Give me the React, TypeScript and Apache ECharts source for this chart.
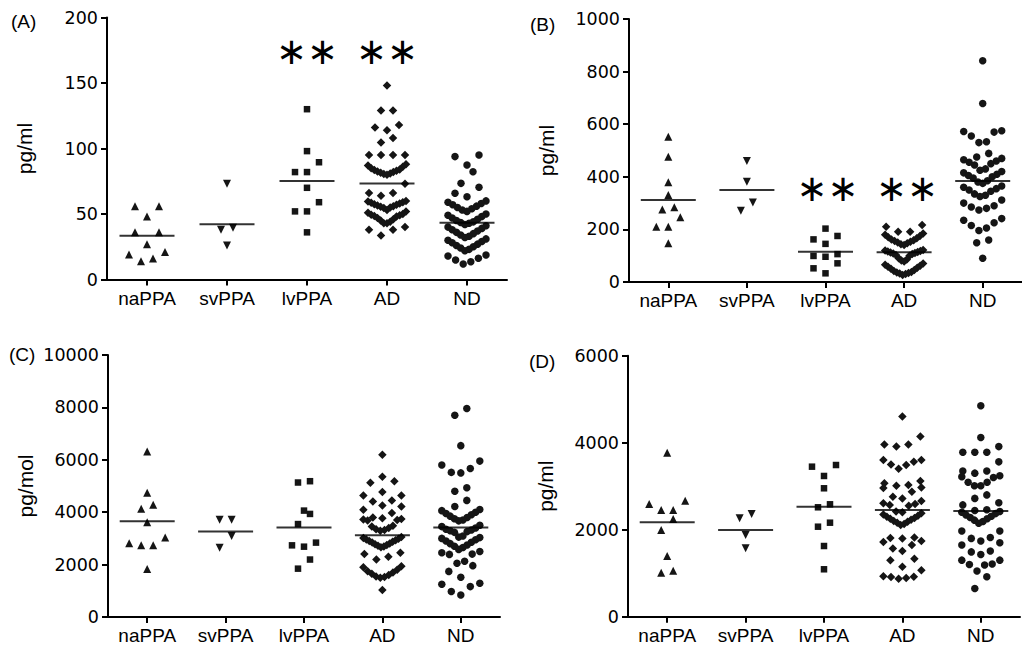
import React, { useEffect, useRef } from 'react';
import * as echarts from 'echarts';

const categories = ['naPPA', 'svPPA', 'lvPPA', 'AD', 'ND'];

// Panel A (pg/ml)
const aNaPPA = [56, 56, 48, 36, 36, 27, 21, 19, 16, 14];
const aSvPPA = [73, 39.5, 38, 26];
const aLvPPA = [130, 98, 89.5, 82, 82, 70, 59, 52, 52, 36];
const aAD = [148, 129, 129, 118, 116, 114, 108, 104.5, 95, 95, 95, 95,
  88, 87, 86, 85, 84, 83.5, 83, 82.5, 82, 81.5, 81, 80.5, 80,
  73, 66, 66, 64,
  60, 59.5, 59, 58.5, 58, 57.5, 57, 56.5, 56, 55.5, 55, 54.5, 53,
  52, 51, 50, 49.5, 49, 48.5, 48, 47, 46, 45, 44, 43, 43,
  40, 38, 38, 33.5];
const aND = [95, 93.8, 87.4, 82.3, 73.4, 70.4, 65.8, 63.2,
  60, 59, 58, 57, 56, 55, 54, 53, 52,
  50, 49, 48, 47, 46, 45, 44, 43.5, 43, 42,
  41, 40, 39, 38, 37, 36, 35, 34, 33, 32,
  31, 30, 29, 28, 27, 26, 25, 24, 23, 22,
  18.7, 17.9, 16.2, 14.9, 13.6, 11.8];
const meansA = [33.4, 42.1, 75.2, 73.2, 43.4];

// Panel B (pg/ml)
const bNaPPA = [552, 476, 379, 331, 284, 276, 246, 210, 210, 147];
const bSvPPA = [460, 381, 302, 271];
const bLvPPA = [203, 175, 162, 145, 106, 99, 96, 71, 52, 33];
const bAD = [217, 210, 191, 191,
  184, 180, 175, 170, 166, 162, 159, 156, 153, 150, 147, 144, 141,
  122, 120, 118, 116, 114, 112, 110, 108, 106, 103, 100, 90, 86, 82, 78,
  70, 66, 62, 58, 54, 50, 46, 42, 38, 36, 34, 32, 30, 27];
const bND = [841, 679, 575, 572, 570, 555, 533, 530, 489, 475,
  470, 465, 460, 455, 450, 445, 430, 425,
  420, 415, 410, 405, 400, 395, 385, 380, 375,
  365, 360, 355, 350, 345, 335, 330, 325,
  312, 300, 290, 285, 280, 274,
  241, 235, 225, 215, 205, 196, 160, 149, 90];
const meansB = [312, 350, 115, 113, 384];

// Panel C (pg/mol)
const cNaPPA = [6320, 4746, 4282, 4127, 3613, 3032, 2812, 2735, 2735, 1833];
const cSvPPA = [3713, 3713, 3094, 2645];
const cLvPPA = [5183, 5133, 4061, 3934, 3547, 2839, 2735, 2684, 2193, 1845];
const cAD = [6190, 5350, 5180, 5120, 4770, 4640, 4640, 4450, 4410, 4255,
  4215, 4090, 3970, 3800, 3770,
  3740, 3720, 3700, 3680, 3480, 3450, 3400, 3350, 3320, 3290,
  3050, 3020, 2990, 2960, 2930, 2900, 2870, 2840, 2810, 2780, 2750, 2720, 2690, 2660,
  2450, 2400, 2300, 2190,
  1940, 1900, 1800, 1750, 1700, 1650, 1600, 1550, 1530, 1500, 1030];
const cND = [7960, 7700, 6540, 5950, 5800, 5670, 5520, 5500, 4930, 4800, 4450, 4220,
  4100, 4060, 4000, 3950, 3900, 3850, 3800, 3750, 3700, 3670,
  3500, 3450, 3400, 3350, 3320, 3290, 3260, 3230, 3090, 3050,
  3030, 3000, 2950, 2900, 2850, 2800, 2750, 2700, 2650, 2580,
  2500, 2450, 2400, 2390, 2130, 2050,
  1960, 1740, 1520, 1290, 1250, 1160, 970, 840];
const meansC = [3651, 3264, 3419, 3121, 3419];

// Panel D (pg/ml)
const dNaPPA = [3770, 2667, 2591, 2453, 2453, 2246, 1993, 1395, 1058, 1012];
const dSvPPA = [2361, 2262, 1878, 1572];
const dLvPPA = [3487, 3449, 3235, 2952, 2584, 2515, 2161, 2069, 1625, 1090];
const dAD = [4600, 4140, 3960, 3960, 3910, 3600, 3600, 3560, 3500, 3490, 3400,
  3120, 3070, 3030, 3010, 2970, 2960, 2870, 2760, 2720,
  2660, 2610, 2590, 2570, 2550, 2420, 2400,
  2380, 2350, 2320, 2300, 2270, 2250, 2230, 2200, 2180, 2160, 2130, 2110,
  1820, 1810, 1800, 1740, 1720, 1650, 1570, 1510,
  1330, 1300, 1150, 1070, 930, 920, 910, 890, 870];
const dND = [4850, 4120, 3910, 3780, 3780, 3780, 3560, 3350, 3350, 3300,
  3240, 3220, 3200, 3090, 3090, 3010, 3010, 2800, 2720, 2620, 2570, 2460, 2440,
  2420, 2400, 2370, 2340, 2310, 2280, 2250, 2220, 2190, 2150,
  1970, 1970, 1820, 1800, 1740, 1700, 1650, 1510, 1490, 1430,
  1300, 1300, 1210, 1200, 1190, 1050, 920, 650];
const meansD = [2170, 1993, 2529, 2453, 2430];

const yTicksA = { max: 200, interval: 50 };
const yTicksB = { max: 1000, interval: 200 };
const yTicksC = { max: 10000, interval: 2000 };
const yTicksD = { max: 6000, interval: 2000 };

const FONT = "'Liberation Sans', Arial, sans-serif";
const TICKFONT = "'DejaVu Sans', 'Liberation Sans', sans-serif";
const INK = '#000000';

const panels = [
  { label: '(A)', unit: 'pg/ml', ticks: yTicksA, groups: [aNaPPA, aSvPPA, aLvPPA, aAD, aND], means: meansA,
    grid: { left: 107, top: 17.5, width: 400, height: 262 }, labelPos: [11, 12], stars: [2, 3], starY: 50 },
  { label: '(B)', unit: 'pg/ml', ticks: yTicksB, groups: [bNaPPA, bSvPPA, bLvPPA, bAD, bND], means: meansB,
    grid: { left: 629, top: 19, width: 397, height: 263 }, labelPos: [530, 15], stars: [2, 3], starY: 187 },
  { label: '(C)', unit: 'pg/mol', ticks: yTicksC, groups: [cNaPPA, cSvPPA, cLvPPA, cAD, cND], means: meansC,
    grid: { left: 108, top: 355, width: 392, height: 262 }, labelPos: [9, 345], stars: [], starY: 0 },
  { label: '(D)', unit: 'pg/ml', ticks: yTicksD, groups: [dNaPPA, dSvPPA, dLvPPA, dAD, dND], means: meansD,
    grid: { left: 628, top: 355.7, width: 392, height: 261 }, labelPos: [529, 352], stars: [], starY: 0 },
];

const symbols = [
  { symbol: 'triangle', size: 8, rotate: 0 },
  { symbol: 'triangle', size: 8, rotate: 180 },
  { symbol: 'rect', size: 6.5, rotate: 0 },
  { symbol: 'diamond', size: 8.5, rotate: 0 },
  { symbol: 'circle', size: 7.5, rotate: 0 },
];

// Prism-like column scatter layout: values within a 12px band share a row,
// lowest at the centre, spreading outwards.
function swarmOffsets(values: number[], pxPerUnit: number): number[] {
  const H = 12, S = 12, W = 38;
  const order = values.map((_, i) => i).sort((a, b) => values[a] - values[b]);
  const off = new Array(values.length).fill(0);
  let g: number[] = [];
  const flush = () => {
    const n = g.length;
    if (!n) return;
    const s = n > 1 ? Math.min(S, W / (n - 1)) : 0;
    const pos: number[] = [];
    if (n % 2 === 1) {
      pos.push(0);
      for (let k = 1; pos.length < n; k++) {
        pos.push(-k * s);
        if (pos.length < n) pos.push(k * s);
      }
    } else {
      for (let k = 0; pos.length < n; k++) {
        pos.push(-(k + 0.5) * s);
        pos.push((k + 0.5) * s);
      }
    }
    g.forEach((idx, j) => { off[idx] = pos[j]; });
    g = [];
  };
  let start = -Infinity;
  for (const idx of order) {
    if ((values[idx] - start) * pxPerUnit > H) {
      flush();
      start = values[idx];
    }
    g.push(idx);
  }
  flush();
  return off;
}

function buildOption() {
  const grids: any[] = [];
  const xAxes: any[] = [];
  const yAxes: any[] = [];
  const series: any[] = [];
  const graphics: any[] = [];

  panels.forEach((p, pi) => {
    grids.push({ ...p.grid, containLabel: false });
    xAxes.push({
      type: 'category', gridIndex: pi, data: categories, boundaryGap: true,
      axisLine: { show: true, lineStyle: { color: INK, width: 2 } },
      axisTick: { show: true, alignWithLabel: true, length: 6, lineStyle: { color: INK, width: 2 } },
      axisLabel: { fontFamily: FONT, fontSize: 19, color: INK, margin: 9, interval: 0 },
      splitLine: { show: false },
    });
    yAxes.push({
      type: 'value', gridIndex: pi, min: 0, max: p.ticks.max, interval: p.ticks.interval,
      name: p.unit, nameLocation: 'middle', nameGap: 72, nameRotate: 90,
      nameTextStyle: { fontFamily: FONT, fontSize: 21, color: INK },
      axisLine: { show: true, lineStyle: { color: INK, width: 2 } },
      axisTick: { show: true, length: 6, lineStyle: { color: INK, width: 2 } },
      axisLabel: { fontFamily: TICKFONT, fontSize: 17.5, color: INK, margin: 9, formatter: (v: number) => String(v) },
      splitLine: { show: false },
    });
    const ppu = p.grid.height / p.ticks.max;
    p.groups.forEach((vals, ci) => {
      const off = swarmOffsets(vals, ppu);
      const sym = symbols[ci];
      series.push({
        type: 'scatter', xAxisIndex: pi, yAxisIndex: pi,
        symbol: sym.symbol, symbolSize: sym.size, symbolRotate: sym.rotate,
        itemStyle: { color: '#151515', opacity: 1 },
        silent: true,
        data: vals.map((v, i) => ({ value: [ci, v], symbolOffset: [off[i], 0] })),
        z: 2,
      });
    });
    series.push({
      type: 'scatter', xAxisIndex: pi, yAxisIndex: pi,
      symbol: 'rect', symbolSize: [55, 2],
      itemStyle: { color: INK },
      silent: true,
      data: p.means.map((m, ci) => [ci, m]),
      z: 3,
    });
    graphics.push({
      type: 'text', left: p.labelPos[0], top: p.labelPos[1],
      style: { text: p.label, fontFamily: FONT, fontSize: 19, fill: INK },
    });
    const band = p.grid.width / categories.length;
    p.stars.forEach((ci) => {
      graphics.push({
        type: 'text',
        x: p.grid.left + (ci + 0.5) * band,
        y: p.starY + 1,
        style: { text: '∗∗', fontFamily: "'DejaVu Sans'", fontSize: 37, fill: INK, align: 'center', verticalAlign: 'middle' },
      });
    });
  });

  return {
    animation: false,
    backgroundColor: '#ffffff',
    textStyle: { fontFamily: FONT },
    grid: grids,
    xAxis: xAxes,
    yAxis: yAxes,
    series,
    graphic: graphics,
  };
}

export default function App() {
  const ref = useRef<HTMLDivElement>(null);
  useEffect(() => {
    if (!ref.current) return;
    const chart = echarts.init(ref.current, undefined, { renderer: 'svg' });
    chart.setOption(buildOption() as any);
    return () => chart.dispose();
  }, []);
  return (
    <div
      ref={ref}
      style={{ position: 'absolute', left: 0, top: 0, width: 1022, height: 648, background: '#fff' }}
    />
  );
}
